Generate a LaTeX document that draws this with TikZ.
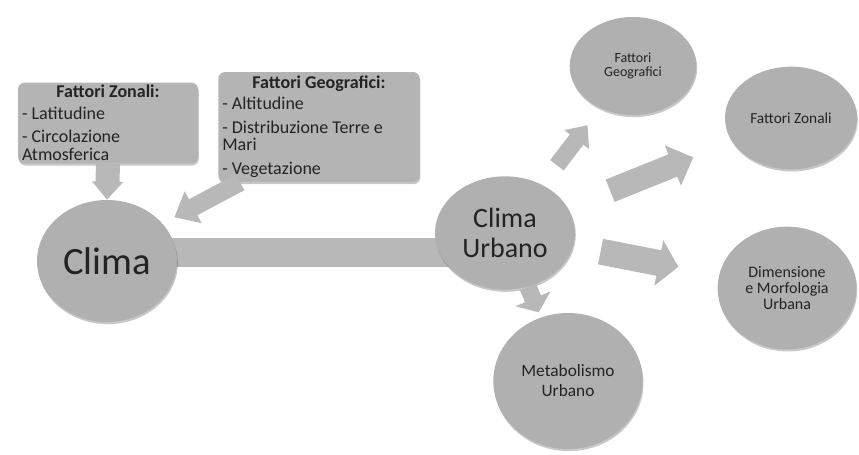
\documentclass[tikz,border=0pt]{standalone}
\usepackage{fontspec}
\setmainfont{Carlito}
\usetikzlibrary{arrows.meta,shapes.geometric,shadows,backgrounds}

\definecolor{discgray}{RGB}{176,176,176}
\definecolor{boxgray}{RGB}{180,180,180}
\definecolor{arrowgray}{RGB}{184,184,184}
\definecolor{inkgray}{RGB}{35,35,35}

\tikzset{
  disc/.style={ellipse, fill=discgray, inner sep=0pt, align=center, text=inkgray,
    drop shadow={shadow xshift=0.6pt, shadow yshift=-1.6pt, fill=black, opacity=0.22}},
  factorbox/.style={rectangle, rounded corners=5pt, fill=boxgray, inner xsep=3pt, inner ysep=2pt,
    align=flush left, text=inkgray, font=\fontsize{13.5}{12.5}\selectfont,
    drop shadow={shadow xshift=0.6pt, shadow yshift=-1.6pt, fill=black, opacity=0.22}},
  blockarrow/.style n args={3}{draw=arrowgray, line width=#1, -{Triangle[width=#2,length=#3]}}
}

\begin{document}
\begin{tikzpicture}[x=0.75pt,y=-0.75pt]
\useasboundingbox (0,0) rectangle (859,454);

% The factor boxes
\node[factorbox, text width=129pt, minimum height=60pt] (zonali) at (108,123)
  {\hfill\textbf{Fattori Zonali:}\hfill\null\\[4pt]
   - Latitudine\\[4.5pt]
   - Circolazione\\[1pt]
   Atmosferica};
\node[factorbox, text width=145pt, minimum height=82.5pt] (geo) at (319,127)
  {\hfill\textbf{Fattori Geografici:}\hfill\null\\[3pt]
   - Altitudine\\[5.5pt]
   - Distribuzione Terre e\\
   Mari\\[6pt]
   - Vegetazione};

% The discs
\node[disc, minimum width=105pt, minimum height=91.5pt, font=\fontsize{29}{32}\selectfont] (clima) at (107,261) {Clima};
\node[disc, minimum width=105pt, minimum height=85pt, font=\fontsize{21}{22}\selectfont] (cu) at (505,233) {Clima\\Urbano};
\node[disc, minimum width=95pt, minimum height=73.5pt, font=\fontsize{10.5}{10}\selectfont] (fg) at (633,66) {Fattori\\Geografici};
\node[disc, minimum width=99pt, minimum height=77pt, font=\fontsize{11.5}{12}\selectfont] (fz) at (791,118) {Fattori Zonali};
\node[disc, minimum width=104pt, minimum height=92pt, font=\fontsize{12}{12}\selectfont] (dim) at (787,288) {Dimensione\\e Morfologia\\Urbana};
\node[disc, minimum width=112pt, minimum height=102pt, font=\fontsize{13}{15}\selectfont] (met) at (568,381) {Metabolismo\\Urbano};

% The bar from Clima to Clima Urbano
\begin{scope}[on background layer]
\draw[draw=arrowgray, line width=21.75pt] ([yshift=6.75pt]clima.center) -- ([yshift=6.75pt]clima.center -| cu.center);
\end{scope}

% The block arrows
\draw[blockarrow={18pt}{22.5pt}{13.5pt}] (zonali.south) -- (clima.north);
\draw[blockarrow={13.5pt}{26pt}{16pt}, shorten >=10pt] (geo.-145) -- (clima.34);
\draw[blockarrow={12.75pt}{22.5pt}{13.5pt}, shorten <=64pt, shorten >=56pt] (cu.center) -- (fg.center);
\draw[blockarrow={18pt}{31.5pt}{16.5pt}, shorten <=85pt, shorten >=79pt] (cu.center) -- (fz.center);
\draw[blockarrow={19.5pt}{34pt}{15pt}, shorten <=73pt, shorten >=83pt] (cu.center) -- (dim.center);
\draw[blockarrow={13pt}{28pt}{11pt}, shorten <=44pt, shorten >=56pt] (cu.center) -- (met.center);

\end{tikzpicture}
\end{document}
